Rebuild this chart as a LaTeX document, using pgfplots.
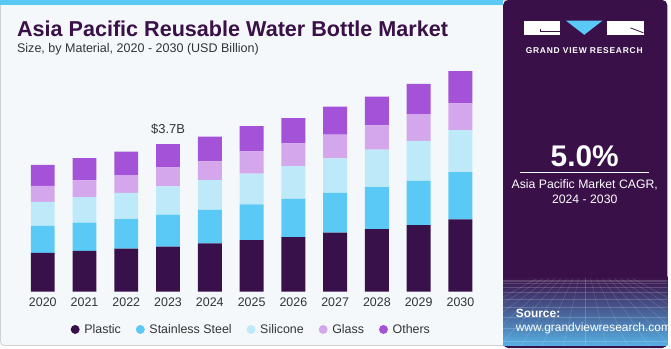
\documentclass[border=0pt]{standalone}
\usepackage{pgfplots}
\pgfplotsset{compat=1.18}
\usepackage{pgfplotstable}
\usepackage{fontspec}
\setmainfont{Liberation Sans}
\definecolor{plasticC}{HTML}{38104A}
\definecolor{steelC}{HTML}{5BC9F5}
\definecolor{siliconeC}{HTML}{BDE9F9}
\definecolor{glassC}{HTML}{D4A6EB}
\definecolor{othersC}{HTML}{A452D7}
\definecolor{panelC}{HTML}{3A1048}
\definecolor{bgC}{HTML}{F4F8FB}
\definecolor{topbarC}{HTML}{5BC9F5}
\definecolor{textC}{HTML}{333333}
\definecolor{bottomC}{HTML}{56AEE2}
\pgfplotstableread{
x plastic steel silicone glass others
0 0.97 0.68 0.60 0.40 0.53
1 1.02 0.71 0.64 0.42 0.56
2 1.08 0.74 0.66 0.44 0.59
3 1.13 0.80 0.71 0.48 0.58
4 1.21 0.84 0.75 0.47 0.62
5 1.29 0.90 0.77 0.56 0.63
6 1.37 0.96 0.82 0.57 0.63
7 1.48 1.00 0.86 0.60 0.70
8 1.57 1.05 0.94 0.61 0.72
9 1.67 1.11 1.00 0.67 0.76
10 1.81 1.19 1.05 0.67 0.81
}\datatable
\begin{document}
\begin{tikzpicture}[x=1pt,y=1pt]
% canvas
\fill[white] (0,0) rectangle (671,350);
\filldraw[fill=bgC, draw=black!18, line width=0.8pt, rounded corners=4pt] (0.5,2.5) rectangle (520,349.5);
\fill[topbarC] (0,345) rectangle (506,350);
% right panel
\fill[panelC, rounded corners=5pt] (506,0) rectangle (671,350);
\shade[top color=panelC, bottom color=bottomC] (506,3) rectangle (671,72);
\begin{scope}
\clip (506,3) rectangle (671,70);
\foreach \i in {0,...,9} {\draw[white, opacity=0.18, line width=0.4pt] (500,{68-\i*\i*0.75}) -- (680,{68-\i*\i*0.75});}
\foreach \i in {-8,...,8} {\draw[white, opacity=0.18, line width=0.4pt] ({588+\i*6},70) -- ({588+\i*22},0);}
\end{scope}
% logo
\fill[white] (527,315) rectangle (563,329.3);
\fill[panelC] (543,317.6) rectangle (563,318.6);
\fill[panelC] (543,317.6) rectangle (544,320.5);
\fill[steelC] (569,329.3) -- (606,329.3) -- (587.5,315) -- cycle;
\fill[white] (610,315) rectangle (648,329.3);
\draw[panelC, line width=0.8pt] (634,322) -- (647,317);
\node[white, font=\bfseries\fontsize{8.5}{9}\selectfont, anchor=center] at (587.5,299.3) {\addfontfeature{LetterSpace=9}GRAND VIEW RESEARCH};
\node[white, font=\bfseries\fontsize{30}{32}\selectfont, anchor=center] at (588,193.3) {5.0\%};
\draw[white, line width=0.8pt] (523,176.7) -- (653,176.7);
\node[white, font=\fontsize{12.3}{14}\selectfont, anchor=center] at (588,164.3) {Asia Pacific Market CAGR,};
\node[white, font=\fontsize{12.3}{14}\selectfont, anchor=center] at (588,150) {2024 - 2030};
\node[white, font=\bfseries\fontsize{12}{14}\selectfont, anchor=west, inner sep=0pt] at (518.5,35) {Source:};
\node[white, font=\fontsize{12}{14}\selectfont, anchor=west, inner sep=0pt] at (518.5,20) {www.grandviewresearch.com};
% titles
\node[anchor=west, inner sep=0pt, text=panelC, font=\bfseries\fontsize{21.7}{24}\selectfont] at (17,321.5) {Asia Pacific Reusable Water Bottle Market};
\node[anchor=west, inner sep=0pt, text=textC, font=\fontsize{12.6}{15}\selectfont] at (17,300) {Size, by Material, 2020 - 2030 (USD Billion)};
\begin{axis}[
  at={(22pt,56.7pt)}, anchor=south west,
  scale only axis, width=462pt, height=240.6pt,
  xmin=-0.5, xmax=10.5, ymin=0, ymax=6,
  ybar stacked, bar width=24pt,
  axis line style={draw=none},
  major tick length=0pt,
  ytick=\empty,
  xtick=data,
  xticklabels={2020,2021,2022,2023,2024,2025,2026,2027,2028,2029,2030},
  xticklabel style={font=\fontsize{12.5}{14}\selectfont, text=textC, yshift=-3pt},
  clip=false,
  legend columns=5,
  legend style={at={(0.4994,-0.158)}, anchor=center, draw=none, fill=none,
    font=\fontsize{12.5}{14}\selectfont, text=textC,
    /tikz/every odd column/.append style={column sep=2.7pt},
    /tikz/every even column/.append style={column sep=13pt}},
  every axis plot/.append style={draw=none},
]
\addplot+[fill=plasticC, legend image code/.code={\fill[plasticC] (0pt,0pt) circle (4.5pt);}] table[x=x,y=plastic] {\datatable};
\addplot+[fill=steelC, legend image code/.code={\fill[steelC] (0pt,0pt) circle (4.5pt);}] table[x=x,y=steel] {\datatable};
\addplot+[fill=siliconeC, legend image code/.code={\fill[siliconeC] (0pt,0pt) circle (4.5pt);}] table[x=x,y=silicone] {\datatable};
\addplot+[fill=glassC, legend image code/.code={\fill[glassC] (0pt,0pt) circle (4.5pt);}] table[x=x,y=glass] {\datatable};
\addplot+[fill=othersC, legend image code/.code={\fill[othersC] (0pt,0pt) circle (4.5pt);}] table[x=x,y=others] {\datatable};
\legend{Plastic,Stainless Steel,Silicone,Glass,Others}
\node[anchor=center, text=textC, font=\fontsize{13}{15}\selectfont] at (axis cs:3,3.70) [yshift=15pt] {\$3.7B};
\end{axis}
\end{tikzpicture}
\end{document}
